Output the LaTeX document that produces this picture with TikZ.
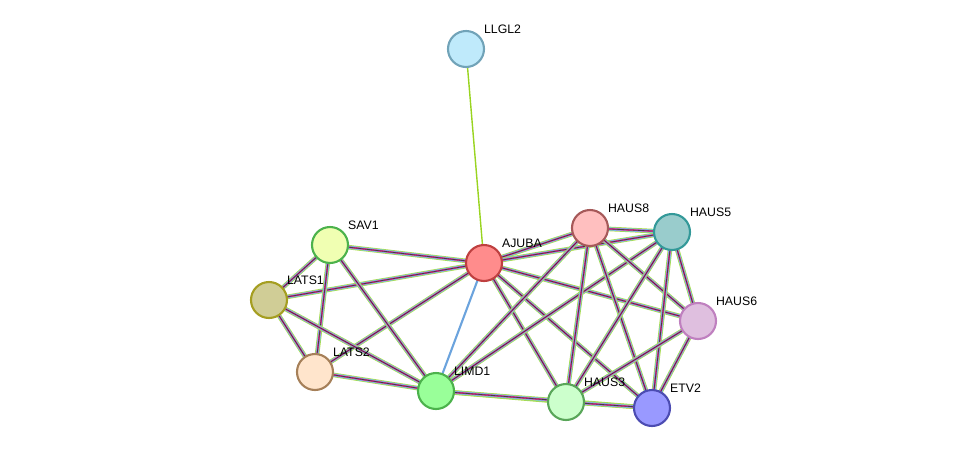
\documentclass[tikz,border=0pt]{standalone}
\usepackage{fontspec}
\setmainfont{Liberation Sans}
\begin{document}
\begin{tikzpicture}[x=0.02cm,y=-0.02cm,
  prot/.style={circle,draw,line width=1.2pt,minimum size=0.72cm,inner sep=0pt},
  lab/.style={font=\scriptsize,anchor=south west,inner sep=1pt}]
\useasboundingbox (0,0) rectangle (975,454);
% proteins
\foreach \n/\x/\y in {LLGL2/466/49,AJUBA/484/263,SAV1/330/245,LATS1/269/300,LATS2/315/372,
  LIMD1/436/391,HAUS8/590/228,HAUS5/672/232,HAUS6/698/321,HAUS3/566/402,ETV2/652/408}
  \coordinate (\n) at (\x,\y);
% evidence bundles
\foreach \a/\b in {AJUBA/SAV1,AJUBA/LATS1,AJUBA/LATS2,AJUBA/HAUS8,AJUBA/HAUS5,AJUBA/HAUS6,
  AJUBA/HAUS3,AJUBA/ETV2,SAV1/LATS1,SAV1/LATS2,SAV1/LIMD1,LATS1/LATS2,LATS1/LIMD1,
  LATS2/LIMD1,LIMD1/HAUS3,LIMD1/ETV2,LIMD1/HAUS8,LIMD1/HAUS5,HAUS8/HAUS5,HAUS8/HAUS6,
  HAUS8/HAUS3,HAUS8/ETV2,HAUS5/HAUS6,HAUS5/HAUS3,HAUS5/ETV2,HAUS6/HAUS3,HAUS6/ETV2,HAUS3/ETV2}{
  \draw[line width=2.6pt,yellow!60!green!80] (\a)--(\b);
  \draw[line width=1.8pt,cyan!60] (\a)--(\b);
  \draw[line width=1.1pt,magenta!80] (\a)--(\b);
  \draw[line width=0.45pt,black!75] (\a)--(\b);}
\draw[line width=0.8pt,yellow!60!green] (LLGL2)--(AJUBA);
\draw[line width=1.2pt,cyan!60!blue!60] (AJUBA)--(LIMD1);
\foreach \n/\x/\y/\f/\d in {LLGL2/466/49/cyan!25/cyan!40!gray,AJUBA/484/263/red!45/red!50!gray,
  SAV1/330/245/green!20!yellow!30/green!40!gray,LATS1/269/300/yellow!40!gray!70/olive!80,
  LATS2/315/372/orange!20/orange!30!gray,LIMD1/436/391/green!40/green!40!gray,
  HAUS8/590/228/red!25/red!30!gray,HAUS5/672/232/teal!40/teal!80,
  HAUS6/698/321/violet!25/violet!50,HAUS3/566/402/green!20/green!30!gray,
  ETV2/652/408/blue!40/blue!40!gray}{
  \node[prot,fill=\f,draw=\d] (n\n) at (\n) {};
  \node[lab] at (\x+16,\y-13) {\n};}
\end{tikzpicture}
\end{document}
